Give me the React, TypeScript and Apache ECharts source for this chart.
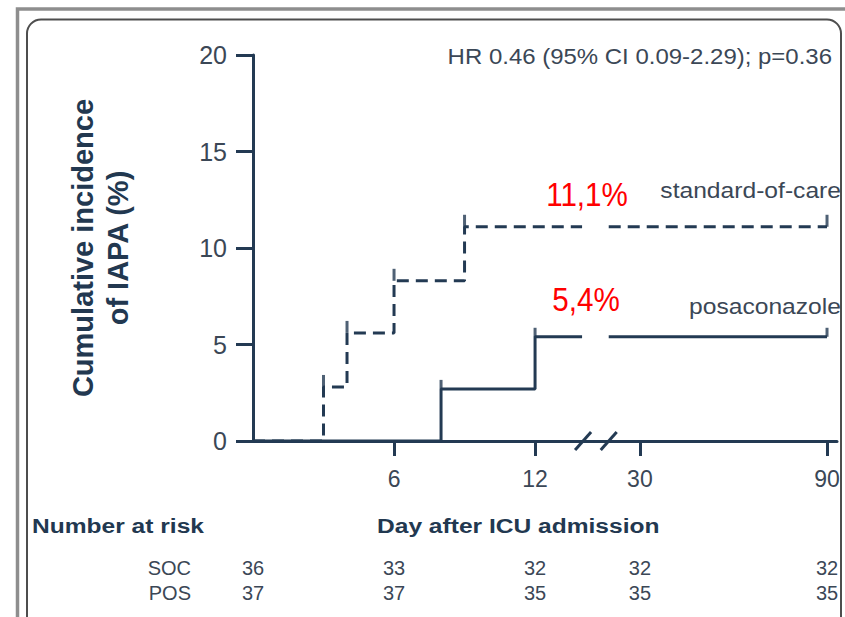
import React, { useEffect, useRef } from 'react';
import * as echarts from 'echarts';

// ---- data ----
const socDays = [0, 3, 4, 6, 9, 90];
const socIncidence = [0, 2.8, 5.6, 8.3, 11.1, 11.1];
const posDays = [0, 8, 12, 90];
const posIncidence = [0, 2.7, 5.4, 5.4];

const leftTickDays = [6, 12];
const rightTickDays = [30, 90];

const riskDays = [0, 6, 12, 30, 90];
const socAtRisk = [36, 33, 32, 32, 32];
const posAtRisk = [37, 37, 35, 35, 35];
const riskRowNames = ['SOC', 'POS'];

const finalLabels = ['11,1%', '5,4%'];
const groupNames = ['standard-of-care', 'posaconazole'];
const hrText = 'HR 0.46 (95% CI 0.09-2.29); p=0.36';
const yAxisTitle = 'Cumulative incidence\nof IAPA (%)';
const xAxisTitle = 'Day after ICU admission';
const riskTitle = 'Number at risk';

// axis break: curves stop at BREAK_START (left panel) and resume at BREAK_END (right panel)
const BREAK_START = 14;
const BREAK_END = 20;
const LEFT_RANGE = [0, 14.55];
const RIGHT_RANGE = [15.6, 93.2];
const RISK_OFFSETS = [127, 152];

const LINE = '#233a53';
const TEXT = '#3b4756';
const BOLD = '#223850';
const FONT = '"Liberation Sans", Arial, Helvetica, sans-serif';

function valueAt(days: number[], vals: number[], d: number) {
  let v = vals[0];
  days.forEach((x, i) => { if (x <= d) v = vals[i]; });
  return v;
}
function leftPart(days: number[], vals: number[]) {
  const pts = days.map((d, i) => [d, vals[i]]).filter((p) => p[0] <= BREAK_START);
  pts.push([BREAK_START, valueAt(days, vals, BREAK_START)]);
  return pts;
}
function rightPart(days: number[], vals: number[]) {
  const pts: number[][] = [[BREAK_END, valueAt(days, vals, BREAK_END)]];
  days.forEach((d, i) => { if (d >= BREAK_END) pts.push([d, vals[i]]); });
  return pts;
}
function marks(days: number[], vals: number[], left: boolean) {
  return days
    .map((d, i) => [d, vals[i]])
    .filter((p) => p[0] > 0 && (left ? p[0] <= BREAK_START : p[0] >= BREAK_END));
}

const riskLookup = (arr: number[]) => (v: number) => {
  const i = riskDays.indexOf(Number(v));
  return i >= 0 ? String(arr[i]) : '';
};

function riskAxis(grid: number, offset: number, arr: number[], values: number[]) {
  const range = grid === 0 ? LEFT_RANGE : RIGHT_RANGE;
  return {
    gridIndex: grid,
    type: 'value',
    min: range[0],
    max: range[1],
    position: 'bottom',
    offset,
    axisLine: { show: false, onZero: false },
    axisTick: { show: false },
    splitLine: { show: false },
    axisLabel: {
      customValues: values,
      formatter: riskLookup(arr),
      margin: 0,
      verticalAlign: 'middle',
      fontSize: 20,
      color: TEXT,
      fontFamily: FONT,
    },
  };
}

function mainXAxis(grid: number, values: number[]) {
  const range = grid === 0 ? LEFT_RANGE : RIGHT_RANGE;
  return {
    gridIndex: grid,
    type: 'value',
    min: range[0],
    max: range[1],
    position: 'bottom',
    axisLine: { show: true, onZero: false, lineStyle: { color: LINE, width: 3 } },
    axisTick: { show: true, customValues: values, length: 15, lineStyle: { color: LINE, width: 3 } },
    axisLabel: { customValues: values, fontSize: 23, margin: 26, color: TEXT, fontFamily: FONT },
    splitLine: { show: false },
  };
}

function lineSeries(grid: number, data: number[][], dashed: boolean) {
  return {
    type: 'line',
    xAxisIndex: grid,
    yAxisIndex: grid,
    step: 'end',
    symbol: 'none',
    data,
    lineStyle: { color: LINE, width: 3, type: dashed ? [12, 7] : 'solid', cap: 'butt' },
    z: 5,
  };
}
function markSeries(grid: number, data: number[][], h: number) {
  return {
    type: 'scatter',
    xAxisIndex: grid,
    yAxisIndex: grid,
    symbol: 'rect',
    symbolSize: [3, h],
    symbolOffset: [0, '-50%'],
    itemStyle: { color: LINE },
    data,
    z: 6,
  };
}

export default function App() {
  const ref = useRef<HTMLDivElement>(null);
  useEffect(() => {
    const el = ref.current!;
    const chart = echarts.init(el, null, { renderer: 'svg' });
    chart.setOption({
      animation: false,
      backgroundColor: '#ffffff',
      grid: [
        { left: 253, right: 250, top: 55, bottom: 176 },
        { left: 595, right: 8, top: 55, bottom: 176 },
      ],
      xAxis: [
        mainXAxis(0, leftTickDays),
        mainXAxis(1, rightTickDays),
        riskAxis(0, RISK_OFFSETS[0], socAtRisk, [0, 6, 12]),
        riskAxis(0, RISK_OFFSETS[1], posAtRisk, [0, 6, 12]),
        riskAxis(1, RISK_OFFSETS[0], socAtRisk, [30, 90]),
        riskAxis(1, RISK_OFFSETS[1], posAtRisk, [30, 90]),
      ],
      yAxis: [
        {
          gridIndex: 0,
          type: 'value',
          min: 0,
          max: 20,
          interval: 5,
          axisLine: { show: true, lineStyle: { color: LINE, width: 3 } },
          axisTick: { show: true, length: 17, lineStyle: { color: LINE, width: 3 } },
          axisLabel: { fontSize: 25, margin: 26, color: TEXT, fontFamily: FONT },
          splitLine: { show: false },
          name: yAxisTitle,
          nameLocation: 'middle',
          nameRotate: 90,
          nameGap: 118,
          nameTextStyle: { fontSize: 29, fontWeight: 'bold', lineHeight: 35, color: BOLD, fontFamily: FONT },
        },
        { gridIndex: 1, type: 'value', min: 0, max: 20, show: false },
      ],
      series: [
        lineSeries(0, leftPart(socDays, socIncidence), true),
        lineSeries(1, rightPart(socDays, socIncidence), true),
        lineSeries(0, leftPart(posDays, posIncidence), false),
        lineSeries(1, rightPart(posDays, posIncidence), false),
        markSeries(0, marks(socDays, socIncidence, true), 12),
        markSeries(1, marks(socDays, socIncidence, false), 12),
        markSeries(0, marks(posDays, posIncidence, true), 9),
        markSeries(1, marks(posDays, posIncidence, false), 9),
      ],
    });

    const xPx = (i: number, v: number) => chart.convertToPixel({ xAxisIndex: i }, v) as number;
    const yPx = (v: number) => chart.convertToPixel({ yAxisIndex: 0 }, v) as number;
    const y0 = yPx(0);
    const socEnd = socIncidence[socIncidence.length - 1];
    const posEnd = posIncidence[posIncidence.length - 1];
    const b1 = xPx(0, BREAK_START) + 1;
    const b2 = xPx(1, BREAK_END);
    const txt = (text: string, x: number, y: number, size: number, align: string, opts: any = {}) => ({
      type: 'text',
      x,
      y,
      z: 20,
      scaleX: opts.sx || 1,
      style: {
        text,
        fontSize: size,
        fontFamily: FONT,
        fontWeight: opts.bold ? 'bold' : 'normal',
        fill: opts.color || TEXT,
        align,
        verticalAlign: 'middle',
        textAlign: align,
        textVerticalAlign: 'middle',
      },
    });
    const slash = (cx: number) => ({
      type: 'line',
      z: 20,
      shape: { x1: cx - 8, y1: y0 + 9, x2: cx + 8, y2: y0 - 9 },
      style: { stroke: LINE, lineWidth: 3 },
    });
    chart.setOption({
      graphic: {
        elements: [
          {
            type: 'rect',
            z: 0,
            shape: { x: 17.5, y: 9, width: 840, height: 700 },
            style: { fill: 'none', stroke: '#8e8e8e', lineWidth: 3.5 },
          },
          {
            type: 'rect',
            z: 0,
            shape: { x: 27, y: 19.5, width: 814, height: 700, r: 14 },
            style: { fill: 'none', stroke: '#4e4e4e', lineWidth: 2 },
          },
          slash(b1),
          slash(b2),
          txt(hrText, 832, 56, 22, 'right', { sx: 1.09 }),
          txt(groupNames[0], 841, yPx(socEnd) - 36, 22, 'right', { sx: 1.12 }),
          txt(groupNames[1], 841, yPx(posEnd) - 30, 22, 'right', { sx: 1.12 }),
          txt(finalLabels[0], 587, yPx(socEnd) - 33, 34, 'center', { color: '#ff0000', sx: 0.87 }),
          txt(finalLabels[1], 586, yPx(posEnd) - 38, 34, 'center', { color: '#ff0000', sx: 0.87 }),
          txt(riskTitle, 32, 526, 21, 'left', { bold: true, color: BOLD, sx: 1.17 }),
          txt(xAxisTitle, 377, 526, 21, 'left', { bold: true, color: BOLD, sx: 1.17 }),
          txt(riskRowNames[0], 191, y0 + RISK_OFFSETS[0], 20, 'right'),
          txt(riskRowNames[1], 191, y0 + RISK_OFFSETS[1], 20, 'right'),
        ],
      },
    });
    return () => chart.dispose();
  }, []);
  return (
    <div
      ref={ref}
      style={{ position: 'fixed', left: 0, top: 0, width: 845, height: 617, background: '#fff' }}
    />
  );
}
